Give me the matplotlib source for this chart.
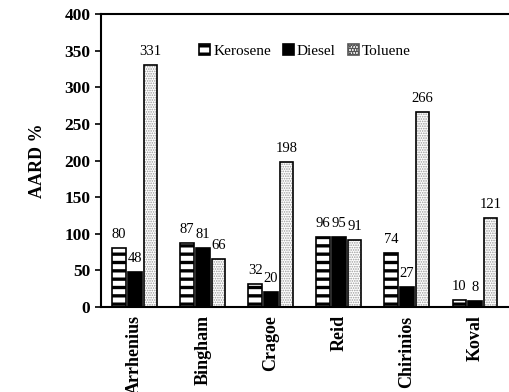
import matplotlib.pyplot as plt
import numpy as np

models = ['Arrhenius', 'Bingham', 'Cragoe', 'Reid', 'Chirinios', 'Koval']
kerosene = [80, 87, 32, 96, 74, 10]
diesel = [48, 81, 20, 95, 27, 8]
toluene = [331, 66, 198, 91, 266, 121]

plt.rcParams['font.family'] = 'Liberation Serif'
plt.rcParams['hatch.linewidth'] = 2.4

fig = plt.figure(figsize=(5.09, 3.92), dpi=100)
ax = fig.add_axes([0.198, 0.217, 0.802, 0.747])

x = np.arange(len(models))
w = 0.2
step = 0.23

# kerosene: black/white horizontal stripes
ax.bar(x - step, kerosene, w, color='white', edgecolor='black', hatch='--', lw=1.2,
       label='Kerosene')
# diesel: solid black
ax.bar(x, diesel, w, color='black', edgecolor='black', lw=1.2, label='Diesel')
# toluene: light grey dots, drawn as a dotted fill plus a black outline
with plt.rc_context({'hatch.linewidth': 0.8}):
    ax.bar(x + step, toluene, w, color='white', edgecolor='#9a9a9a', hatch='.......', lw=0)
    tol_handle = plt.Rectangle((0, 0), 1, 1, facecolor='white', edgecolor='#555555',
                               hatch='......', lw=1.2)
ax.bar(x + step, toluene, w, fill=False, edgecolor='black', lw=1.2)

for off, vals in [(-step, kerosene), (0, diesel), (step, toluene)]:
    for xi, v in zip(x + off, vals):
        ax.annotate(str(v), (xi, v), xytext=(0, 5), textcoords='offset points',
                    ha='center', va='bottom', fontsize=10.5)

ax.set_xlim(-0.5, 5.5)
ax.set_ylim(0, 400)
ax.set_yticks(range(0, 401, 50))
ax.set_xticks(x)
ax.set_xticklabels(models, rotation=90, fontsize=13, fontweight='bold')
ax.tick_params(axis='y', labelsize=12.5, direction='out', length=4, width=1.2)
ax.tick_params(axis='x', length=0, pad=6)
for lbl in ax.get_yticklabels():
    lbl.set_fontweight('bold')
ax.spines['right'].set_visible(False)
for s in ['left', 'bottom', 'top']:
    ax.spines[s].set_linewidth(1.5)

ax.set_ylabel('AARD %', fontsize=13, fontweight='bold', labelpad=13)

h, l = ax.get_legend_handles_labels()
ax.legend(h[:2] + [tol_handle], ['Kerosene', 'Diesel', 'Toluene'], ncol=3,
          loc='upper center', bbox_to_anchor=(0.5, 0.945), frameon=False,
          fontsize=11, handlelength=0.7, handleheight=0.7, handletextpad=0.2,
          columnspacing=0.8)

fig.savefig('out.png', dpi=100)
